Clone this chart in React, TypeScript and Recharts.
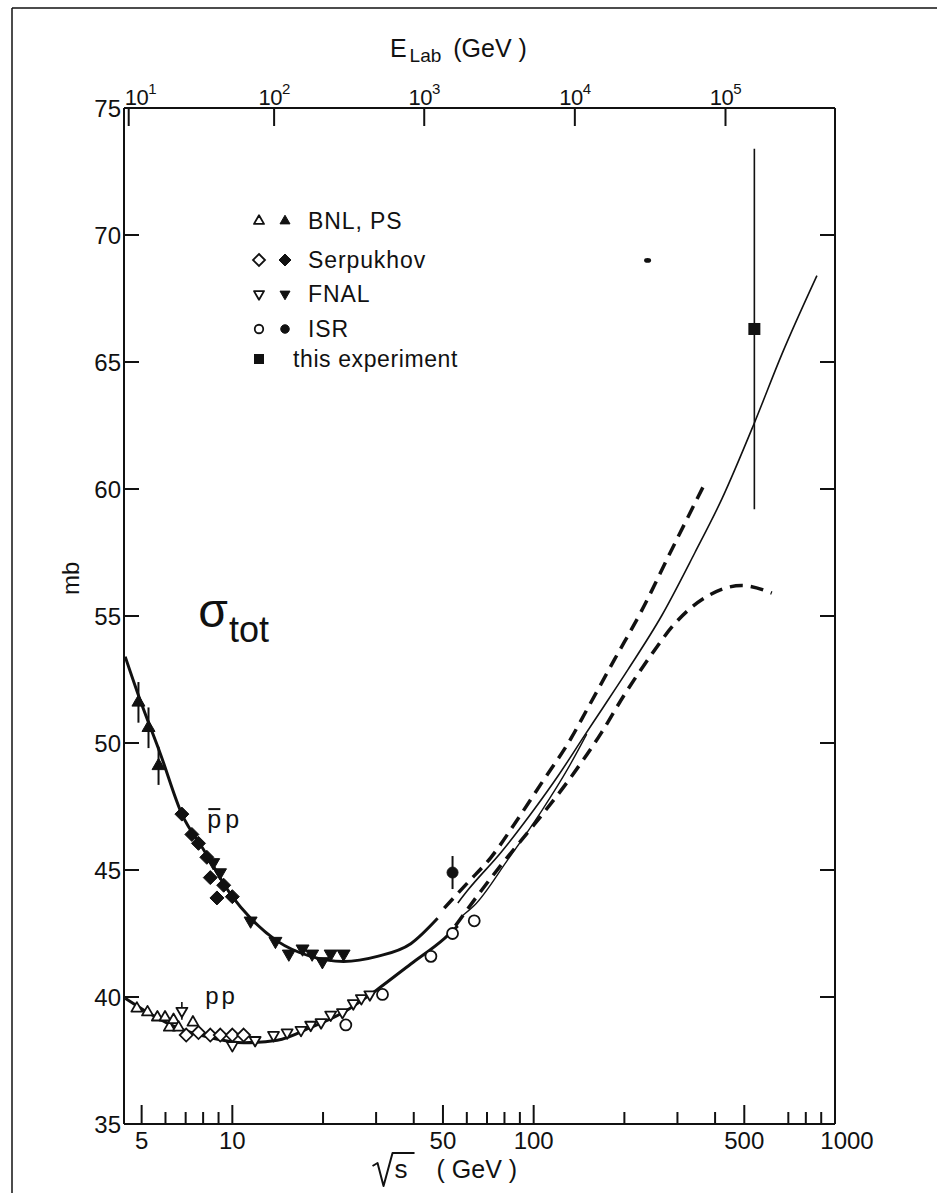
import React from 'react';
import { ComposedChart, Line, Scatter, XAxis, YAxis, ErrorBar, ReferenceDot, Label } from 'recharts';

const W = 937;
const H = 1193;
const FONT = '"Liberation Sans", Arial, Helvetica, sans-serif';
const INK = '#111';

// ---------- axes ----------
const X_DOMAIN = [4.37, 1000];
const Y_DOMAIN = [35, 75];
const X_TICKS = [5, 6, 7, 8, 9, 10, 20, 30, 40, 50, 60, 70, 80, 90, 100, 200, 300, 400, 500, 700, 800, 900, 1000];
const X_MAJOR = [5, 10, 50, 100, 500, 1000];
const Y_TICKS = [35, 40, 45, 50, 55, 60, 65, 70, 75];
const ELAB_EXPONENTS = [1, 2, 3, 4, 5];
const PROTON_MASS = 0.938;
const ELAB_TICKS = ELAB_EXPONENTS.map((n) => Math.sqrt(2 * PROTON_MASS * PROTON_MASS + 2 * PROTON_MASS * Math.pow(10, n)));

// ---------- curves ----------
const PPBAR_FIT_X = [4.41, 4.94, 5.76, 6.8, 8.03, 10.0, 11.5, 14.1, 18.2, 23.4, 30.3, 39.1, 48.0];
const PPBAR_FIT_Y = [53.4, 51.7, 49.6, 47.2, 45.8, 43.95, 43.1, 42.2, 41.6, 41.4, 41.6, 42.1, 43.1];

const PP_FIT_X = [4.41, 5.06, 6.54, 8.45, 10.9, 14.1, 18.2, 23.4, 30.3, 39.1, 50.5, 56.0];
const PP_FIT_Y = [39.95, 39.5, 38.8, 38.4, 38.2, 38.3, 38.8, 39.4, 40.3, 41.3, 42.3, 42.8];

const UPPER_DASH_X = [50.5, 60.4, 72.2, 88.5, 105.9, 133.3, 150, 185.7, 228, 286.8, 365.6];
const UPPER_DASH_Y = [43.5, 44.5, 45.5, 47.0, 48.4, 50.2, 51.3, 53.3, 55.2, 57.6, 60.1];

const THIN_X = [56, 60.4, 78, 100.6, 120.4, 147.6, 170, 205.8, 265.6, 343, 421, 540, 666, 871];
const THIN_Y = [43.7, 44.2, 45.7, 47.4, 48.7, 50.3, 51.4, 52.9, 55.0, 57.5, 59.6, 62.6, 65.3, 68.4];

const THIN_LOWER_X = [58, 63.5, 82, 105.9, 130, 150];
const THIN_LOWER_Y = [43.2, 43.6, 45.4, 47.3, 49.0, 50.35];

const LOWER_DASH_X = [55, 65.2, 78, 100.6, 130, 167.7, 200, 240, 294, 380, 490, 617];
const LOWER_DASH_Y = [42.8, 44.0, 45.2, 46.8, 48.5, 50.4, 51.9, 53.3, 54.7, 55.8, 56.2, 55.9];

// ---------- data points ----------
const BNL_PPBAR_X = [4.88, 5.27, 5.69];
const BNL_PPBAR_Y = [51.6, 50.6, 49.1];
const BNL_PPBAR_ERR = [0.8, 0.8, 0.75];

const BNL_PP_X = [4.82, 5.23, 5.64, 5.98, 6.18, 6.38, 6.63, 7.4];
const BNL_PP_Y = [39.55, 39.4, 39.2, 39.2, 38.8, 39.1, 38.8, 39.0];

const SERP_PPBAR_X = [6.8, 7.34, 7.72, 8.23, 8.45, 8.89, 9.36, 10.0];
const SERP_PPBAR_Y = [47.2, 46.4, 46.05, 45.5, 44.7, 43.9, 44.4, 43.95];

const SERP_PP_X = [7.03, 7.72, 8.45, 9.12, 10.0, 10.9];
const SERP_PP_Y = [38.5, 38.6, 38.5, 38.5, 38.5, 38.5];

const FNAL_PPBAR_X = [8.64, 9.1, 11.5, 13.9, 15.4, 17.1, 18.4, 19.9, 21.2, 23.4];
const FNAL_PPBAR_Y = [45.3, 44.9, 43.0, 42.2, 41.7, 41.9, 41.7, 41.4, 41.7, 41.7];

const FNAL_PP_X = [6.8, 10.0, 11.9, 13.7, 15.2, 16.9, 18.2, 19.7, 21.2, 23.2, 25.2, 26.8, 28.6];
const FNAL_PP_Y = [39.45, 38.1, 38.3, 38.5, 38.6, 38.7, 38.9, 39.0, 39.3, 39.4, 39.75, 39.95, 40.1];
const FNAL_PP_ERR = [0.35, 0, 0, 0, 0, 0, 0, 0, 0, 0, 0, 0, 0];

const ISR_PP_X = [23.8, 31.5, 45.6, 53.8, 63.5];
const ISR_PP_Y = [38.9, 40.1, 41.6, 42.5, 43.0];

const ISR_PPBAR_X = [53.8];
const ISR_PPBAR_Y = [44.9];
const ISR_PPBAR_ERR = [0.65];

const THIS_EXP_X = [540];
const THIS_EXP_Y = [66.3];
const THIS_EXP_ERR = [7.1];

const SPECK_X = [238.8];
const SPECK_Y = [69.0];

// ---------- text ----------
const LEGEND_LABELS = ['BNL, PS', 'Serpukhov', 'FNAL', 'ISR', 'this experiment'];
const LEGEND_KINDS = ['up', 'diamond', 'down', 'circle', 'square'];
const SIGMA_POS = { x: 7.71, y: 54.57 };
const PPBAR_LABEL_POS = { x: 8.26, y: 46.65 };
const PP_LABEL_POS = { x: 8.13, y: 39.72 };

const zip = (xs: number[], ys: number[], errs?: number[]) =>
  xs.map((x, i) => ({ x, y: ys[i], err: errs ? errs[i] : 0 }));

// ---------- markers ----------
const triPath = (cx: number, cy: number, s: number, down: boolean) => {
  const h = s * 0.866;
  if (!down) return `M${cx},${cy - (2 * h) / 3} L${cx + s / 2},${cy + h / 3} L${cx - s / 2},${cy + h / 3} Z`;
  return `M${cx},${cy + (2 * h) / 3} L${cx + s / 2},${cy - h / 3} L${cx - s / 2},${cy - h / 3} Z`;
};
const diamondPath = (cx: number, cy: number, s: number) =>
  `M${cx},${cy - s / 2} L${cx + s / 2},${cy} L${cx},${cy + s / 2} L${cx - s / 2},${cy} Z`;

const Marker = ({ cx, cy, kind, filled, size }: any) => {
  if (cx == null || cy == null) return null;
  const fill = filled ? INK : '#fff';
  const sw = filled ? 1 : 1.8;
  if (kind === 'up' || kind === 'down')
    return <path d={triPath(cx, cy, size, kind === 'down')} fill={fill} stroke={INK} strokeWidth={sw} strokeLinejoin="round" />;
  if (kind === 'diamond') return <path d={diamondPath(cx, cy, size)} fill={fill} stroke={INK} strokeWidth={sw} />;
  if (kind === 'circle') return <circle cx={cx} cy={cy} r={size / 2} fill={fill} stroke={INK} strokeWidth={sw} />;
  if (kind === 'square') return <rect x={cx - size / 2} y={cy - size / 2} width={size} height={size} fill={INK} />;
  if (kind === 'speck') return <ellipse cx={cx} cy={cy} rx={size / 2} ry={size / 3} fill={INK} />;
  return null;
};

const shape = (kind: string, filled: boolean, size: number) => (p: any) =>
  <Marker cx={p.cx} cy={p.cy} kind={kind} filled={filled} size={size} />;

// ---------- ticks ----------
const BottomTick = (props: any) => {
  const { x, y, payload } = props;
  const v = payload.value;
  const major = X_MAJOR.includes(v);
  const dx = v === 1000 ? 12 : 0;
  return (
    <g>
      <line x1={x} x2={x} y1={y} y2={y - (major ? 19 : 12)} stroke={INK} strokeWidth={2} />
      {major && (
        <text x={x + dx} y={y + 25} textAnchor="middle" fontFamily={FONT} fontSize={24} fill={INK}>
          {v}
        </text>
      )}
    </g>
  );
};

const TopTick = (props: any) => {
  const { x, y, index } = props;
  const n = ELAB_EXPONENTS[index];
  const first = index === 0;
  return (
    <g>
      <line x1={x} x2={x} y1={y} y2={y + 18} stroke={INK} strokeWidth={2} />
      <text
        x={first ? x - 4 : x}
        y={y - 3}
        textAnchor={first ? 'start' : 'middle'}
        fontFamily={FONT}
        fontSize={22}
        letterSpacing={-0.5}
        fill={INK}
      >
        10<tspan dy={-11} fontSize={15}>{n}</tspan>
      </text>
    </g>
  );
};

const LeftTick = (props: any) => {
  const { x, y, payload } = props;
  const v = payload.value;
  const edge = v === Y_DOMAIN[0] || v === Y_DOMAIN[1];
  return (
    <g>
      {!edge && <line x1={x} x2={x + 15} y1={y} y2={y} stroke={INK} strokeWidth={2} />}
      <text x={x - 3} y={y + 8.5} textAnchor="end" fontFamily={FONT} fontSize={24} fill={INK}>
        {v}
      </text>
    </g>
  );
};

const RightTick = (props: any) => {
  const { x, y, payload } = props;
  const v = payload.value;
  const edge = v === Y_DOMAIN[0] || v === Y_DOMAIN[1];
  if (edge) return <g />;
  return <line x1={x} x2={x - 15} y1={y} y2={y} stroke={INK} strokeWidth={2} />;
};

// ---------- labels ----------
const BottomAxisLabel = (props: any) => {
  const vb = props.viewBox;
  const cx = vb.x + vb.width * 0.448;
  const by = vb.y + 54;
  const x0 = cx - 70;
  return (
    <g>
      <path
        d={`M${x0},${by - 12} L${x0 + 5},${by - 15} L${x0 + 11},${by + 8} L${x0 + 20},${by - 25} L${x0 + 42},${by - 25}`}
        fill="none"
        stroke={INK}
        strokeWidth={2}
        strokeLinejoin="round"
      />
      <text x={x0 + 22} y={by} fontFamily={FONT} fontSize={26} fill={INK}>
        s
      </text>
      <text x={x0 + 64} y={by} fontFamily={FONT} fontSize={25} fill={INK}>
        ( GeV )
      </text>
    </g>
  );
};

const TopAxisLabel = (props: any) => {
  const vb = props.viewBox;
  const x0 = vb.x + vb.width * 0.374;
  const by = vb.y - 50;
  return (
    <text x={x0} y={by} fontFamily={FONT} fontSize={25} fill={INK}>
      E<tspan fontSize={19} dx={3} dy={5}>Lab</tspan>
      <tspan fontSize={25} dx={12} dy={-5}>(GeV )</tspan>
    </text>
  );
};

const LeftAxisLabel = (props: any) => {
  const vb = props.viewBox;
  const cx = vb.x - 52;
  const cy = vb.y + vb.height * 0.463;
  return (
    <text x={cx} y={cy} transform={`rotate(-90 ${cx} ${cy})`} textAnchor="middle" dominantBaseline="central" fontFamily={FONT} fontSize={24} fill={INK}>
      mb
    </text>
  );
};

const SigmaText = (p: any) => (
  <text x={p.cx} y={p.cy} fontFamily={FONT} fill={INK}>
    <tspan fontSize={48}>σ</tspan>
    <tspan fontSize={36} dx={1} dy={15}>tot</tspan>
  </text>
);

const PbarPText = (p: any) => (
  <g>
    <text x={p.cx} y={p.cy} fontFamily={FONT} fontSize={25} fill={INK}>
      p<tspan dx={4}>p</tspan>
    </text>
    <line x1={p.cx + 1} x2={p.cx + 13} y1={p.cy - 19} y2={p.cy - 19} stroke={INK} strokeWidth={2} />
  </g>
);

const PPText = (p: any) => (
  <text x={p.cx} y={p.cy} fontFamily={FONT} fontSize={24} fill={INK}>
    p<tspan dx={3}>p</tspan>
  </text>
);

// ---------- legend ----------
const LEGEND_TOP = 221;
const LEGEND_STEP = [0, 39, 73, 108, 139];
const LegendBlock = () => (
  <g>
    {LEGEND_LABELS.map((lab, i) => {
      const cy = LEGEND_TOP + LEGEND_STEP[i];
      const kind = LEGEND_KINDS[i];
      if (kind === 'square') {
        return (
          <g key={lab}>
            <Marker cx={259} cy={cy - 1} kind="square" filled size={10} />
            <text x={293} y={cy + 7} fontFamily={FONT} fontSize={23} letterSpacing={0.6} fill={INK}>
              {lab}
            </text>
          </g>
        );
      }
      const size = kind === 'diamond' ? 12 : kind === 'circle' ? 8.5 : 10;
      return (
        <g key={lab}>
          <Marker cx={259} cy={cy} kind={kind} filled={false} size={size} />
          <Marker cx={285} cy={cy} kind={kind} filled size={size} />
          <text x={308} y={cy + 8} fontFamily={FONT} fontSize={23} letterSpacing={0.9} fill={INK}>
            {lab}
          </text>
        </g>
      );
    })}
  </g>
);

export default function App() {
  return (
    <div style={{ position: 'absolute', left: 0, top: 0, width: W, height: H, background: '#fff', overflow: 'hidden' }}>
      <ComposedChart width={W} height={H} margin={{ top: 107, left: 123, right: 101, bottom: 68 }}>
        <XAxis
          dataKey="x"
          type="number"
          scale="log"
          domain={X_DOMAIN}
          allowDataOverflow
          ticks={X_TICKS}
          interval={0}
          tick={<BottomTick />}
          tickLine={false}
          tickSize={0}
          tickMargin={0}
          height={1}
          axisLine={{ stroke: INK, strokeWidth: 2 }}
        >
          <Label content={<BottomAxisLabel />} />
        </XAxis>
        <XAxis
          xAxisId="top"
          orientation="top"
          dataKey="x"
          type="number"
          scale="log"
          domain={X_DOMAIN}
          allowDataOverflow
          ticks={ELAB_TICKS}
          interval={0}
          tick={<TopTick />}
          tickLine={false}
          tickSize={0}
          tickMargin={0}
          height={1}
          axisLine={{ stroke: INK, strokeWidth: 2 }}
        >
          <Label content={<TopAxisLabel />} />
        </XAxis>
        <YAxis
          dataKey="y"
          type="number"
          domain={Y_DOMAIN}
          allowDataOverflow
          ticks={Y_TICKS}
          interval={0}
          tick={<LeftTick />}
          tickLine={false}
          tickSize={0}
          tickMargin={0}
          width={1}
          axisLine={{ stroke: INK, strokeWidth: 2 }}
        >
          <Label content={<LeftAxisLabel />} />
        </YAxis>
        <YAxis
          yAxisId="right"
          orientation="right"
          dataKey="y"
          type="number"
          domain={Y_DOMAIN}
          allowDataOverflow
          ticks={Y_TICKS}
          interval={0}
          tick={<RightTick />}
          tickLine={false}
          tickSize={0}
          tickMargin={0}
          width={1}
          axisLine={{ stroke: INK, strokeWidth: 2 }}
        />

        <Line data={zip(PPBAR_FIT_X, PPBAR_FIT_Y)} dataKey="y" type="monotone" dot={false} activeDot={false} stroke={INK} strokeWidth={3} isAnimationActive={false} />
        <Line data={zip(PP_FIT_X, PP_FIT_Y)} dataKey="y" type="monotone" dot={false} activeDot={false} stroke={INK} strokeWidth={3} isAnimationActive={false} />
        <Line data={zip(THIN_X, THIN_Y)} dataKey="y" type="monotone" dot={false} activeDot={false} stroke={INK} strokeWidth={1.6} isAnimationActive={false} />
        <Line data={zip(THIN_LOWER_X, THIN_LOWER_Y)} dataKey="y" type="monotone" dot={false} activeDot={false} stroke={INK} strokeWidth={1.4} isAnimationActive={false} />
        <Line data={zip(UPPER_DASH_X, UPPER_DASH_Y)} dataKey="y" type="monotone" dot={false} activeDot={false} stroke={INK} strokeWidth={3.5} strokeDasharray="13 8" isAnimationActive={false} />
        <Line data={zip(LOWER_DASH_X, LOWER_DASH_Y)} dataKey="y" type="monotone" dot={false} activeDot={false} stroke={INK} strokeWidth={3.5} strokeDasharray="13 8" isAnimationActive={false} />

        <Scatter data={zip(BNL_PP_X, BNL_PP_Y)} shape={shape('up', false, 11)} isAnimationActive={false} />
        <Scatter data={zip(SERP_PP_X, SERP_PP_Y)} shape={shape('diamond', false, 13)} isAnimationActive={false} />
        <Scatter data={zip(FNAL_PP_X, FNAL_PP_Y, FNAL_PP_ERR)} shape={shape('down', false, 11)} isAnimationActive={false}>
          <ErrorBar dataKey="err" direction="y" width={0} stroke={INK} strokeWidth={1.6} />
        </Scatter>
        <Scatter data={zip(ISR_PP_X, ISR_PP_Y)} shape={shape('circle', false, 11)} isAnimationActive={false} />

        <Scatter data={zip(BNL_PPBAR_X, BNL_PPBAR_Y, BNL_PPBAR_ERR)} shape={shape('up', true, 13)} isAnimationActive={false}>
          <ErrorBar dataKey="err" direction="y" width={0} stroke={INK} strokeWidth={2} />
        </Scatter>
        <Scatter data={zip(SERP_PPBAR_X, SERP_PPBAR_Y)} shape={shape('diamond', true, 14)} isAnimationActive={false} />
        <Scatter data={zip(FNAL_PPBAR_X, FNAL_PPBAR_Y)} shape={shape('down', true, 13)} isAnimationActive={false} />
        <Scatter data={zip(ISR_PPBAR_X, ISR_PPBAR_Y, ISR_PPBAR_ERR)} shape={shape('circle', true, 11)} isAnimationActive={false}>
          <ErrorBar dataKey="err" direction="y" width={0} stroke={INK} strokeWidth={2} />
        </Scatter>
        <Scatter data={zip(THIS_EXP_X, THIS_EXP_Y, THIS_EXP_ERR)} shape={shape('square', true, 12)} isAnimationActive={false}>
          <ErrorBar dataKey="err" direction="y" width={0} stroke={INK} strokeWidth={1.6} />
        </Scatter>
        <Scatter xAxisId="top" yAxisId="right" data={zip(SPECK_X, SPECK_Y)} shape={shape('speck', true, 7)} isAnimationActive={false} />

        <ReferenceDot x={SIGMA_POS.x} y={SIGMA_POS.y} r={0} shape={(p: any) => <SigmaText {...p} />} />
        <ReferenceDot x={PPBAR_LABEL_POS.x} y={PPBAR_LABEL_POS.y} r={0} shape={(p: any) => <PbarPText {...p} />} />
        <ReferenceDot x={PP_LABEL_POS.x} y={PP_LABEL_POS.y} r={0} shape={(p: any) => <PPText {...p} />} />
      </ComposedChart>
      <svg width={W} height={H} style={{ position: 'absolute', left: 0, top: 0, pointerEvents: 'none' }}>
        <line x1={12} y1={8} x2={12} y2={H} stroke={INK} strokeWidth={1.5} />
        <line x1={12} y1={8} x2={W} y2={8} stroke={INK} strokeWidth={1.5} />
        <LegendBlock />
      </svg>
    </div>
  );
}
